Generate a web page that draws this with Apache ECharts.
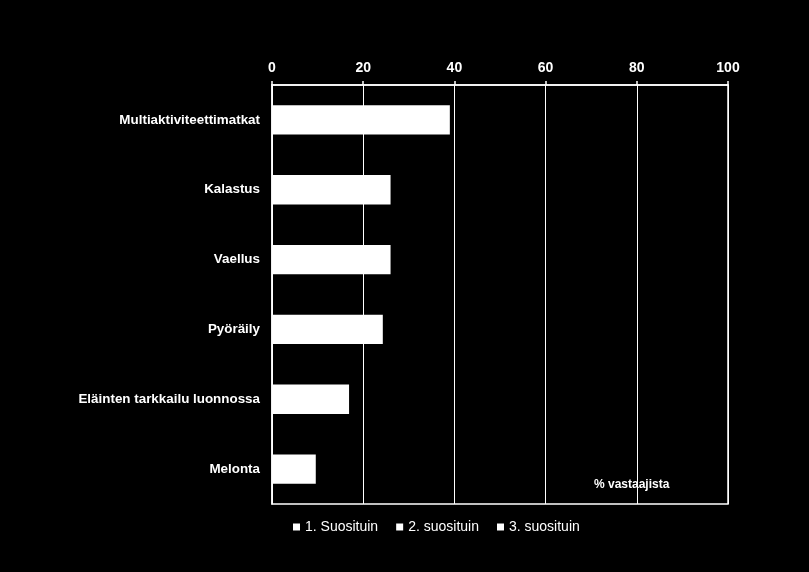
<!DOCTYPE html>
<html>
<head>
<meta charset="utf-8">
<script src="https://cdn.jsdelivr.net/npm/echarts@6/dist/echarts.min.js"></script>
<style>
html,body{margin:0;padding:0;background:#000;}
#chart{width:809px;height:572px;}
</style>
</head>
<body>
<div id="chart"></div>
<script>
const categories = ["Multiaktiviteettimatkat","Kalastus","Vaellus","Pyöräily","Eläinten tarkkailu luonnossa","Melonta"];
const seriesNames = ["1. Suosituin","2. suosituin","3. suosituin"];
const first = [39.0, 26.0, 26.0, 24.3, 16.9, 9.6];
const second = [0, 0, 0, 0, 0, 0];
const third = [0, 0, 0, 0, 0, 0];
const xTicks = {min: 0, max: 100, interval: 20};
const unitLabel = "% vastaajista";

const FONT = "'Liberation Sans',Arial,sans-serif";
const chart = echarts.init(document.getElementById('chart'), null, {renderer:'canvas'});
const mk = (name, data) => ({
  name, type:'bar', stack:'total', data,
  barCategoryGap:'58%',
  itemStyle:{color:'#ffffff'},
  emphasis:{disabled:true}
});
chart.setOption({
  backgroundColor:'#000000',
  animation:false,
  textStyle:{fontFamily:FONT},
  grid:{left:272,right:81,top:85,bottom:68,show:true,borderColor:'#ffffff',borderWidth:1.5,backgroundColor:'transparent'},
  xAxis:{
    type:'value', position:'top', min:xTicks.min, max:xTicks.max, interval:xTicks.interval,
    axisLine:{show:true,lineStyle:{color:'#ffffff',width:1.5}},
    axisTick:{show:true,length:4,lineStyle:{color:'#ffffff',width:1.5}},
    axisLabel:{color:'#ffffff',fontSize:14,fontWeight:'bold',margin:10,fontFamily:FONT},
    splitLine:{show:true,lineStyle:{color:'#ffffff',width:1}}
  },
  yAxis:{
    type:'category', data:categories, inverse:true,
    axisLine:{show:true,lineStyle:{color:'#ffffff',width:1.5}},
    axisTick:{show:false},
    axisLabel:{color:'#ffffff',fontSize:13.4,fontWeight:'bold',margin:12,fontFamily:FONT}
  },
  legend:{
    left:288, top:515, icon:'rect', itemWidth:7, itemHeight:7, itemGap:18,
    textStyle:{color:'#ffffff',fontSize:14,fontFamily:FONT},
    data:seriesNames
  },
  graphic:[{
    type:'text', left:594, top:479,
    style:{text:unitLabel, fill:'#ffffff', font:"bold 12px "+FONT}
  }],
  series:[mk(seriesNames[0], first), mk(seriesNames[1], second), mk(seriesNames[2], third)]
});
</script>
</body>
</html>
